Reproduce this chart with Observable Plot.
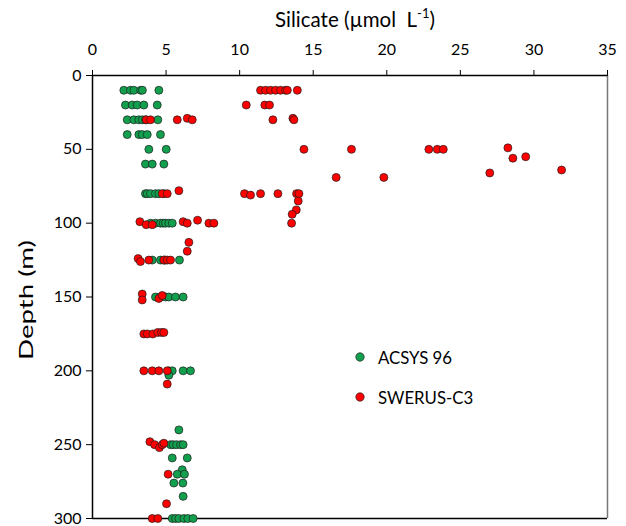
<!DOCTYPE html>
<html>
<head>
<meta charset="utf-8">
<script src="https://cdn.jsdelivr.net/npm/d3@7"></script>
<script src="https://cdn.jsdelivr.net/npm/@observablehq/plot@0.6"></script>
<style>
  html, body { margin: 0; padding: 0; background: #fff; }
  #wrap { position: relative; width: 626px; height: 526px; font-family: Lato, "Noto Sans", sans-serif; color: #000; }
  #title { position: absolute; left: 0; width: 710px; top: 6px; text-align: center; font-size: 20.5px; white-space: pre; }
  #title sup { font-size: 13px; position: relative; top: -1px; }
  #ylab { position: absolute; left: 25px; top: 300px; transform: translate(-50%, -50%) rotate(-90deg) scaleX(1.38); font-size: 20px; white-space: nowrap; }
  #legend { position: absolute; left: 352px; top: 345px; font-size: 16.8px; }
  .li { display: flex; align-items: center; height: 24px; margin-bottom: 16px; }
  .li svg { margin-right: 10px; }
</style>
</head>
<body>
<div id="wrap">
  <div id="chart"></div>
  <div id="title">Silicate (µmol  L<sup>-1</sup>)</div>
  <div id="ylab">Depth (m)</div>
  <div id="legend"></div>
</div>
<script>
const seriesNames = ["ACSYS 96", "SWERUS-C3"];
const seriesColors = ["#12a04f", "#ff0000"];
const xTicks = [0, 5, 10, 15, 20, 25, 30, 35];
const yTicks = [0, 50, 100, 150, 200, 250, 300];

// ACSYS 96
const acsysDepth = [
  10,10,10,10,10,10,
  20,20,20,20,20,
  30,30,30,30,30,30,
  40,40,40,40,40,
  50,50,
  60,60,60,
  80,80,80,80,80,80,
  100,100,100,100,100,100,100,
  125,125,125,125,125,
  150,150,150,150,150,150,
  200,200,200,200,203,
  240,
  250,250,250,250,250,
  259,259,
  267,270,270,
  276,276,
  285,
  300,300,300,300,300,300
];
const acsysSi = [
  2.13,2.58,2.81,3.28,3.39,4.51,
  2.24,2.70,3.04,3.49,4.40,
  2.36,2.81,3.15,3.38,3.60,4.44,
  2.36,3.15,3.38,3.72,4.62,
  3.83,5.01,
  3.60,4.06,4.85,
  3.60,3.72,3.94,4.28,4.51,4.85,
  3.94,4.28,4.62,4.80,4.96,5.19,5.42,
  4.06,4.62,4.85,4.96,5.91,
  4.28,4.62,4.96,5.19,5.64,6.16,
  5.19,5.42,6.16,6.66,5.19,
  5.87,
  5.30,5.48,5.71,5.98,6.16,
  5.42,6.44,
  6.10,5.76,6.25,
  5.53,6.14,
  6.16,
  5.42,5.64,5.87,6.21,6.48,6.84
];

// SWERUS-C3
const swerusDepth = [
  10,10,10,10,10,10,10,10,
  20,20,20,
  30,30,30,29,30,30,29,30,
  49,50,50,50,50,50,55,56,
  64,66,
  69,69,
  78,80,80,80,81,80,80,80,80,
  85,91,94,
  99,101,101,99,100,98,100,100,100,
  113,119,
  124,126,125,125,125,125,
  148,152,151,149,
  175,175,175,174,174,174,
  200,200,200,200,209,
  248,250,252,250,249,
  270,290,
  300,300
];
const swerusSi = [
  11.42,11.76,12.10,12.44,12.78,13.12,13.24,13.92,
  10.45,11.71,12.03,
  3.65,3.94,5.76,6.44,6.78,12.26,13.62,13.69,
  28.23,14.37,17.60,22.86,23.43,23.84,29.44,28.57,
  31.88,27.00,
  16.56,19.80,
  5.87,4.74,5.08,10.33,10.74,11.42,12.60,13.87,14.03,
  13.98,13.85,13.57,
  3.22,3.65,4.06,6.16,6.44,7.14,7.91,8.25,13.53,
  6.55,6.44,
  3.10,3.26,3.83,4.85,5.08,5.30,
  3.38,3.38,4.51,4.74,
  3.49,3.72,4.10,4.44,4.69,4.85,
  3.49,4.06,4.51,5.08,5.08,
  3.90,4.22,4.55,4.74,4.85,
  5.14,5.03,
  4.06,4.44
];

const acsys = acsysDepth.map((d, i) => ({depth: d, si: acsysSi[i]}));
const swerus = swerusDepth.map((d, i) => ({depth: d, si: swerusSi[i]}));

const chart = Plot.plot({
  width: 626,
  height: 526,
  marginLeft: 92,
  marginRight: 19,
  marginTop: 75,
  marginBottom: 8,
  x: {domain: [0, 35]},
  y: {domain: [0, 300], reverse: true},
  style: {fontFamily: "Lato, 'Noto Sans', sans-serif", fontSize: "16px", color: "#000", background: "#fff", overflow: "visible"},
  marks: [
    Plot.ruleX([35], {stroke: "#777", strokeWidth: 1.5}),
    Plot.ruleY([300], {stroke: "#000", strokeWidth: 1.5}),
    Plot.axisX({anchor: "top", ticks: xTicks, tickSize: 6, tickPadding: 15, label: null, fontSize: 16}),
    Plot.axisY({anchor: "left", ticks: yTicks, tickSize: 6, tickPadding: 5, label: null, fontSize: 16}),
    Plot.ruleX([0], {stroke: "#000", strokeWidth: 1.5}),
    Plot.ruleY([0], {stroke: "#000", strokeWidth: 1.5}),
    Plot.dot(acsys, {x: "si", y: "depth", r: 4, fill: seriesColors[0], stroke: "#1e1e1e", strokeWidth: 0.7}),
    Plot.dot(swerus, {x: "si", y: "depth", r: 4, fill: seriesColors[1], stroke: "#1e1e1e", strokeWidth: 0.7})
  ]
});
document.getElementById("chart").appendChild(chart);

const legend = document.getElementById("legend");
seriesNames.forEach((name, i) => {
  const row = document.createElement("div");
  row.className = "li";
  row.innerHTML = `<svg width="16" height="16"><circle cx="8" cy="8" r="4.2" fill="${seriesColors[i]}" stroke="#1e1e1e" stroke-width="0.7"/></svg><span>${name}</span>`;
  legend.appendChild(row);
});
</script>
</body>
</html>
